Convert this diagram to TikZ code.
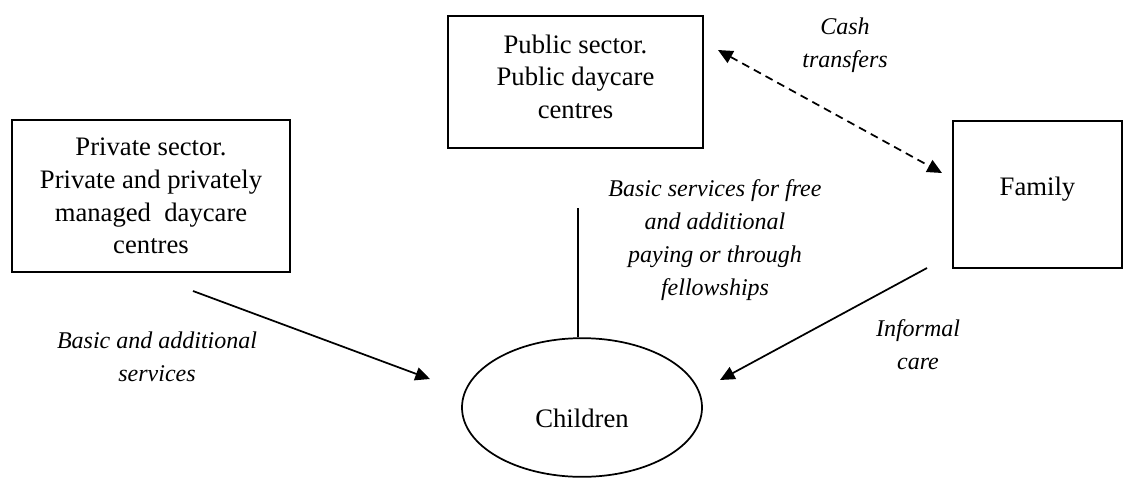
\documentclass[tikz,border=0pt]{standalone}
\usepackage{fontspec}
\setmainfont{Liberation Serif}
\usetikzlibrary{positioning,arrows.meta,shapes.geometric}

\begin{document}
\begin{tikzpicture}
	[   x=0.75pt,y=-0.75pt,
		bnode/.style={draw=black,line width=1.3pt,align=center,inner sep=0pt,font=\fontsize{20}{24.5}\selectfont},
		tnode/.style={align=center,inner sep=0pt,font=\fontsize{18}{24.75}\selectfont\itshape},
	]
	\tikzset{normal arrow/.style={draw,line width=1.3pt,-{Triangle[length=11pt,width=10pt]}}}
	\useasboundingbox (0,0) rectangle (1124,479);
	
	\node[bnode,minimum width=208.5pt,minimum height=114pt] (priv) at (151,196) {Private sector.\\Private and privately\\managed\ \ daycare\\centres};
	\node[bnode,minimum width=191.25pt,minimum height=99pt,text depth=8pt] (pub) at (575.5,82) {Public sector.\\Public daycare\\centres};
	\node[bnode,minimum width=126.75pt,minimum height=110.25pt,text depth=13pt] (fam) at (1037.5,194.5) {Family};
	\node[bnode,ellipse,minimum width=180pt,minimum height=104pt,text height=30pt] (ch) at (582,407.5) {Children};
	
	\node[tnode] (l-cash) at (845,45) {Cash\\transfers};
	\node[tnode] (l-pub) at (715,240) {Basic services for free\\and additional\\paying or through\\fellowships};
	\node[tnode] (l-priv) at (157,357) {Basic and additional\\services};
	\node[tnode] (l-inf) at (918,345) {Informal\\care};
	
	\coordinate (a-1) at (193,291);
	\coordinate (b-1) at (430,379);
	\coordinate (a-2) at (927,268);
	\coordinate (b-2) at (720,380);
	\coordinate (a-3) at (718,50);
	\coordinate (b-3) at (942,173);
	\coordinate (v) at (578,208);
	
	\path[normal arrow] (a-1) -- (b-1);
	\path[normal arrow] (a-2) -- (b-2);
	\path[normal arrow,{Triangle[length=11pt,width=10pt]}-{Triangle[length=11pt,width=10pt]},dash pattern=on 6pt off 4pt] (a-3) -- (b-3);
	\draw[line width=1.3pt] (v) -- (v |- ch.north);
\end{tikzpicture}
\end{document}
